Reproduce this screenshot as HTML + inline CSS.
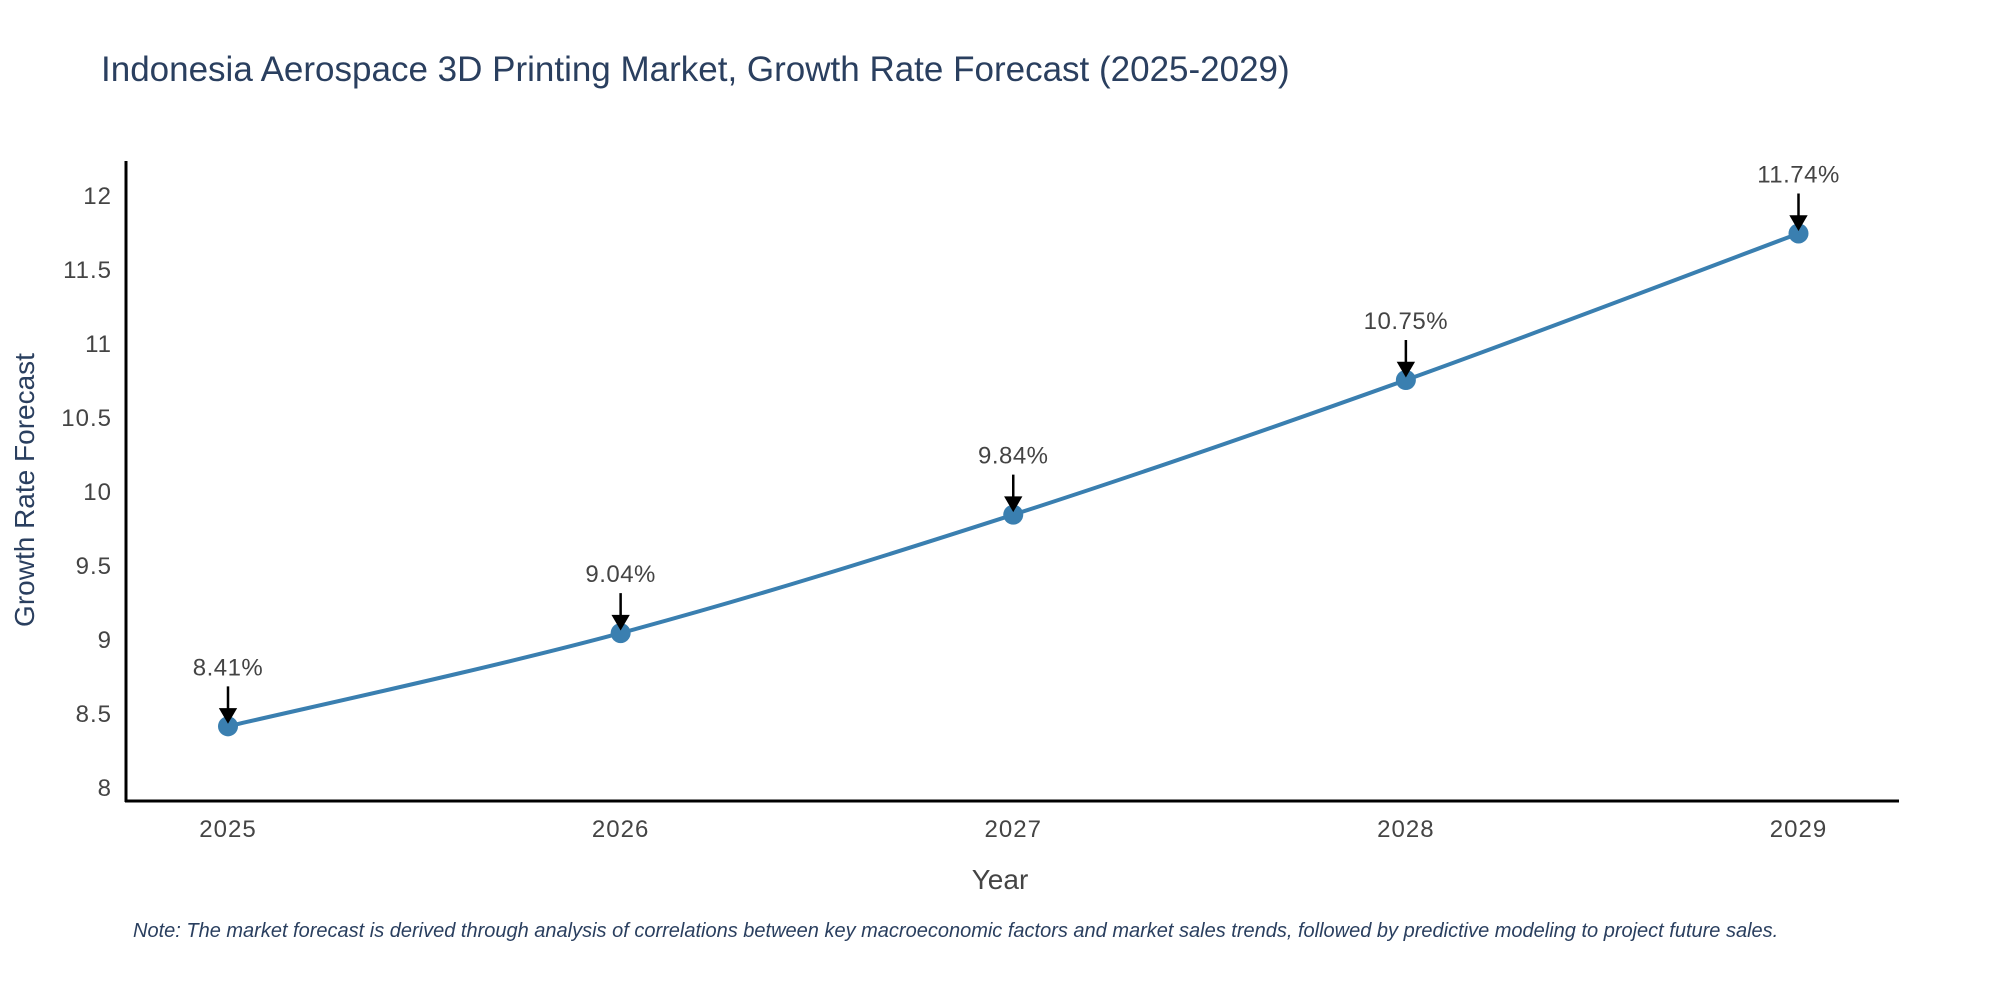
<!DOCTYPE html>
<html><head><meta charset="utf-8"><style>
body{margin:0;background:#fff;}
svg{display:block;font-family:"Liberation Sans",sans-serif;}
</style></head><body>
<svg id="chart" width="2000" height="1000">
<text x="101" y="81" font-size="35" fill="#2a3f5f">Indonesia Aerospace 3D Printing Market, Growth Rate Forecast (2025-2029)</text>
<g id="axes"></g>
<g id="marks"></g>
<text x="1000" y="889" font-size="28" fill="#444" text-anchor="middle">Year</text>
<text transform="translate(34,490) rotate(-90)" font-size="28" fill="#2a3f5f" text-anchor="middle">Growth Rate Forecast</text>
<text x="133" y="937" font-size="20" font-style="italic" fill="#2a3f5f">Note: The market forecast is derived through analysis of correlations between key macroeconomic factors and market sales trends, followed by predictive modeling to project future sales.</text>
</svg>
<script>
const years = ["2025","2026","2027","2028","2029"];
const values = [8.41, 9.04, 9.84, 10.75, 11.74];
const labels = ["8.41%","9.04%","9.84%","10.75%","11.74%"];
const yTicks = [8, 8.5, 9, 9.5, 10, 10.5, 11, 11.5, 12];

const NS="http://www.w3.org/2000/svg";
const x0=228, xStep=(1798.5-228)/(years.length-1);
const xs=i=>x0+i*xStep;
const ys=v=>787-(v-8)*148;
function mk(tag,attrs,parent){const e=document.createElementNS(NS,tag);for(const k in attrs)e.setAttribute(k,attrs[k]);parent.appendChild(e);return e;}
const axes=document.getElementById('axes'), marks=document.getElementById('marks');
let a=mk('line',{x1:126,y1:161,x2:126,y2:802,stroke:'#000','stroke-width':3},axes);


a=mk('line',{x1:125,y1:801,x2:1899,y2:801,stroke:'#000','stroke-width':3},axes);


yTicks.forEach(t=>{const e=mk('text',{x:112,y:ys(t)+9,'font-size':24,'letter-spacing':1,fill:'#444','text-anchor':'end'},axes);e.textContent=String(t);

});
years.forEach((y,i)=>{const e=mk('text',{x:xs(i),y:837,'font-size':24,'letter-spacing':1,fill:'#444','text-anchor':'middle'},axes);e.textContent=y;

});
const pts=values.map((v,i)=>[xs(i),ys(v)]);
let d='M'+pts[0][0]+','+pts[0][1];
for(let i=1;i<pts.length;i++){const p0=pts[Math.max(i-2,0)],p1=pts[i-1],p2=pts[i],p3=pts[Math.min(i+1,pts.length-1)];const t=0.17;
d+=' C'+(p1[0]+(p2[0]-p0[0])*t)+','+(p1[1]+(p2[1]-p0[1])*t)+' '+(p2[0]-(p3[0]-p1[0])*t)+','+(p2[1]-(p3[1]-p1[1])*t)+' '+p2[0]+','+p2[1];}
const line=mk('path',{d:d,fill:'none',stroke:'#3a7fb0','stroke-width':4},marks);


pts.forEach((p,i)=>{
 const c=mk('circle',{cx:p[0],cy:p[1],r:10,fill:'#3a7fb0'},marks);
 
 
 const ar=mk('path',{d:`M${p[0]},${p[1]-40} L${p[0]},${p[1]-16} M${p[0]-7},${p[1]-17} L${p[0]+7},${p[1]-17} L${p[0]},${p[1]-5} Z`,stroke:'#000','stroke-width':2.5,fill:'#000'},marks);
 
 
 const t=mk('text',{x:p[0],y:p[1]-51,'font-size':24,'letter-spacing':0.5,fill:'#444','text-anchor':'middle'},marks);
 t.textContent=labels[i];
 
 
});
</script>
</body></html>
